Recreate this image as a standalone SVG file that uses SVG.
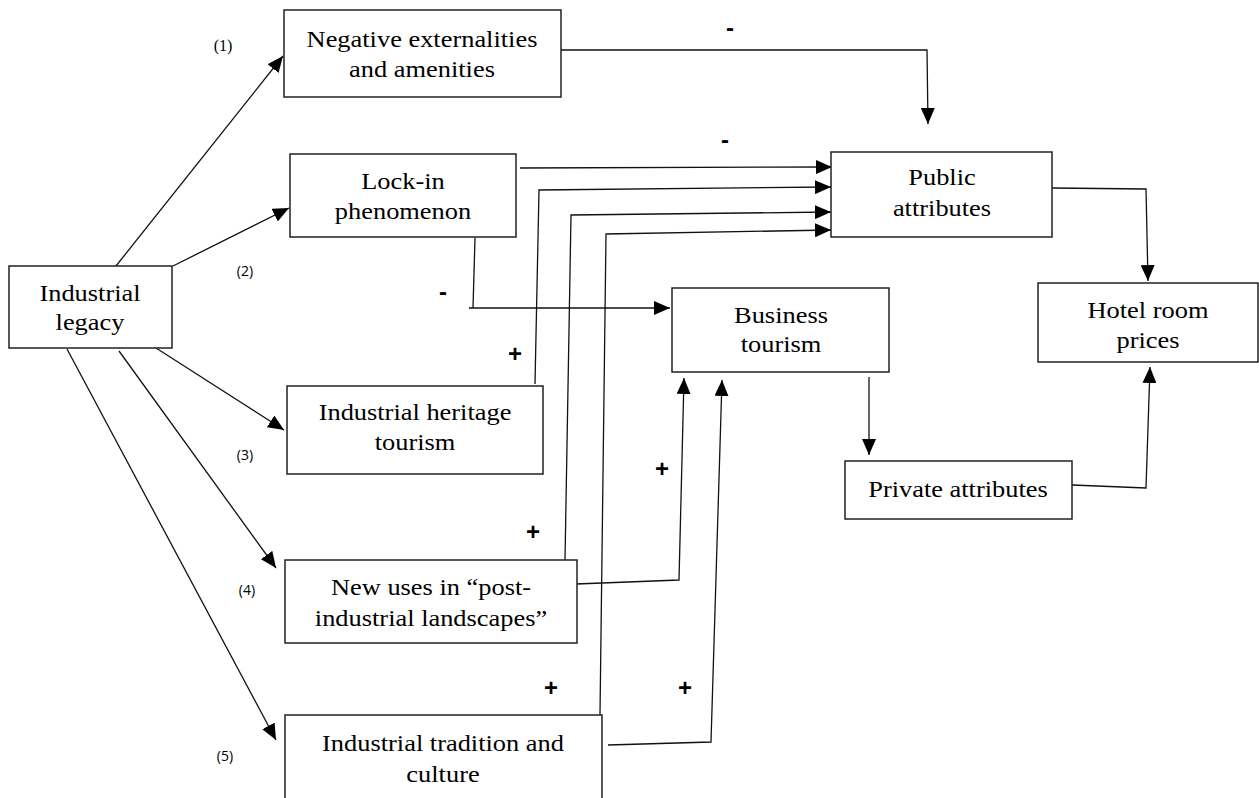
<svg xmlns="http://www.w3.org/2000/svg" width="1259" height="798" viewBox="0 0 1259 798">
<defs>
<marker id="arr" markerUnits="userSpaceOnUse" markerWidth="16" markerHeight="14" refX="16" refY="7" orient="auto">
<path d="M0,0 L16,7 L0,14 z" fill="#000"/>
</marker>
<style>
.box{fill:#fff;stroke:#222;stroke-width:1.5}
.c{fill:none;stroke:#111;stroke-width:1.3}
.a{marker-end:url(#arr)}
</style>
</defs>
<rect width="1259" height="798" fill="#fff"/>

<g id="connectors">
<line class="c a" x1="116" y1="266" x2="283" y2="56"/>
<line class="c a" x1="173" y1="266" x2="289" y2="208"/>
<line class="c a" x1="156" y1="348" x2="284" y2="430"/>
<line class="c a" x1="119" y1="351" x2="276" y2="568"/>
<line class="c a" x1="67" y1="349" x2="276" y2="740"/>
<polyline class="c a" points="561,50 927,50 928,124"/>
<polyline class="c a" points="520,168 832,167"/>
<polyline class="c a" points="535,384 539,190 831,187"/>
<polyline class="c a" points="565,560 571,215 831,212"/>
<polyline class="c a" points="600,715 606,234 831,230"/>
<polyline class="c" points="475,238 473,308"/>
<polyline class="c a" points="469,308 670,308"/>
<polyline class="c a" points="576,584 679,580 684,378"/>
<polyline class="c a" points="608,745 711,742 722,380"/>
<polyline class="c a" points="1052,188 1146,189 1148,281"/>
<polyline class="c a" points="869,377 869,455"/>
<polyline class="c a" points="1072,485 1146,488 1150,367"/>
</g>

<g id="labels" text-anchor="middle" fill="#000">
<g font-family="Liberation Sans, Arial, sans-serif" font-size="24" font-weight="bold">
<text x="730" y="36">-</text>
<text x="725" y="148">-</text>
<text x="443" y="300">-</text>
<text x="515" y="362">+</text>
<text x="662" y="477">+</text>
<text x="533" y="540">+</text>
<text x="551" y="696">+</text>
<text x="685" y="696">+</text>
</g>
<text x="223" y="51" font-family="Liberation Serif, serif" font-size="16">(1)</text>
<g font-family="Open Sans, Liberation Sans, sans-serif" font-size="14">
<text x="245" y="276">(2)</text>
<text x="245" y="460">(3)</text>
<text x="247" y="595">(4)</text>
<text x="225" y="761">(5)</text>
</g>
</g>

<g font-family="Liberation Serif, Times New Roman, serif" font-size="24" text-anchor="middle" fill="#000">
<g id="negative">
<rect class="box" x="284" y="10" width="277" height="87"/>
<text transform="translate(422,47) scale(1.1,1)">Negative externalities</text>
<text transform="translate(422,77) scale(1.1,1)">and amenities</text>
</g>
<g id="lockin">
<rect class="box" x="290" y="154" width="226" height="83"/>
<text transform="translate(403,189) scale(1.1,1)">Lock-in</text>
<text transform="translate(403,219) scale(1.1,1)">phenomenon</text>
</g>
<g id="public">
<rect class="box" x="831" y="152" width="221" height="85"/>
<text transform="translate(942,185) scale(1.1,1)">Public</text>
<text transform="translate(942,216) scale(1.1,1)">attributes</text>
</g>
<g id="business">
<rect class="box" x="672" y="288" width="217" height="84"/>
<text transform="translate(781,323) scale(1.1,1)">Business</text>
<text transform="translate(781,352) scale(1.1,1)">tourism</text>
</g>
<g id="hotel">
<rect class="box" x="1038" y="283" width="220" height="79"/>
<text transform="translate(1148,318) scale(1.1,1)">Hotel room</text>
<text transform="translate(1148,348) scale(1.1,1)">prices</text>
</g>
<g id="legacy">
<rect class="box" x="9" y="266" width="163" height="82"/>
<text transform="translate(90,301) scale(1.1,1)">Industrial</text>
<text transform="translate(90,330) scale(1.1,1)">legacy</text>
</g>
<g id="heritage">
<rect class="box" x="287" y="386" width="256" height="88"/>
<text transform="translate(415,420) scale(1.1,1)">Industrial heritage</text>
<text transform="translate(415,450) scale(1.1,1)">tourism</text>
</g>
<g id="newuses">
<rect class="box" x="285" y="560" width="292" height="83"/>
<text transform="translate(431,595) scale(1.1,1)">New uses in “post-</text>
<text transform="translate(431,626) scale(1.1,1)">industrial landscapes”</text>
</g>
<g id="tradition">
<rect class="box" x="285" y="715" width="317" height="90"/>
<text transform="translate(443,751) scale(1.1,1)">Industrial tradition and</text>
<text transform="translate(443,782) scale(1.1,1)">culture</text>
</g>
<g id="private">
<rect class="box" x="845" y="461" width="227" height="58"/>
<text transform="translate(958,497) scale(1.1,1)">Private attributes</text>
</g>
</g>
</svg>
